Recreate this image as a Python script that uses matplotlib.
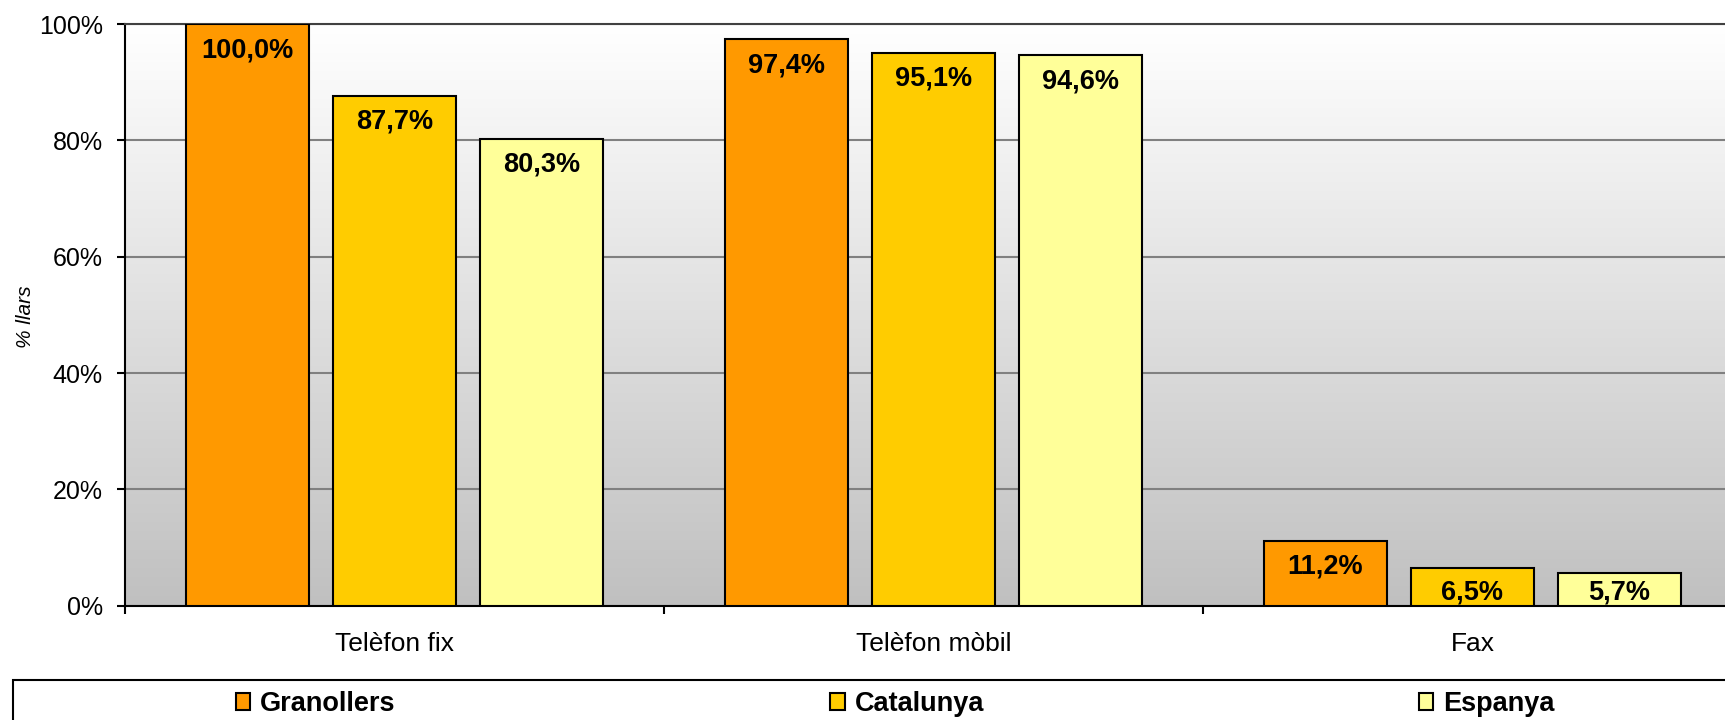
import numpy as np
import matplotlib
matplotlib.use("Agg")
import matplotlib.pyplot as plt
from matplotlib.patches import Rectangle
from matplotlib.colors import LinearSegmentedColormap

plt.rcParams['font.family'] = ['Liberation Sans', 'DejaVu Sans']

categories = ["Telèfon fix", "Telèfon mòbil", "Fax"]
series = ["Granollers", "Catalunya", "Espanya"]
granollers = [100.0, 97.4, 11.2]
catalunya = [87.7, 95.1, 6.5]
espanya = [80.3, 94.6, 5.7]
yticks = [0, 20, 40, 60, 80, 100]
ytick_labels = ["0%", "20%", "40%", "60%", "80%", "100%"]
colors = ["#FF9900", "#FFCC00", "#FFFF99"]

W, H = 1725, 720
fig = plt.figure(figsize=(W / 100, H / 100), dpi=100)
left_px, right_px, top_px, bot_px = 125, 1725, 24, 605.7
ax = fig.add_axes([left_px / W, (H - bot_px) / H, (right_px - left_px) / W, (bot_px - top_px) / H])

cat_px = 539.0
xmax = -0.5 + (right_px - left_px) / cat_px

# gradient background
cmap = LinearSegmentedColormap.from_list("bg", ["#C0C0C0", "#FFFFFF"])
grad = np.linspace(0, 1, 256).reshape(-1, 1)
ax.imshow(grad, extent=(-0.5, xmax + 0.1, 0, 100), origin="lower", aspect="auto",
          cmap=cmap, zorder=-1, interpolation="bilinear")

# gridlines
ax.set_axisbelow(True)
ax.yaxis.grid(True, color="#808080", linewidth=1.5)

bw = 122.5 / cat_px
step = (122.5 + 24.5) / cat_px
x = np.arange(len(categories))
data = [granollers, catalunya, espanya]
bars = []
for i, (vals, c, name) in enumerate(zip(data, colors, series)):
    b = ax.bar(x + (i - 1) * step, vals, width=bw, color=c, edgecolor="black",
               linewidth=1.5, zorder=3, label=name)
    bars.append(b)
    for xi, v in zip(x + (i - 1) * step, vals):
        ly = max(v - 26 / 5.815, 2.2)
        ax.text(xi, ly, f"{v:.1f}%".replace(".", ","), ha="center", va="center",
                fontsize=19.5, fontweight="bold", zorder=4)

# axes styling
ax.spines["right"].set_visible(False)
ax.spines["top"].set_color("#404040")
ax.spines["top"].set_linewidth(1.5)
ax.spines["left"].set_linewidth(1.5)
ax.spines["bottom"].set_linewidth(1.5)

ax.set_yticks(yticks)
ax.set_yticklabels(ytick_labels, fontsize=18)
ax.tick_params(axis="y", length=6, width=1.5, pad=10)

ax.set_xticks([-0.5, 0.5, 1.5, 2.5])
ax.set_xticklabels([])
ax.tick_params(axis="x", which="major", length=6, width=1.5, direction="out")
ax.set_xticks(x, minor=True)
ax.set_xticklabels(categories, minor=True, fontsize=19)
ax.tick_params(axis="x", which="minor", length=0, pad=19)

ax.set_xlim(-0.5, xmax)
ax.set_ylim(0, 100)

ax.set_ylabel("% llars", fontsize=15, style="italic", labelpad=0)
ax.yaxis.set_label_coords(-(left_px - 35) / (right_px - left_px), (bot_px - 317) / (bot_px - top_px))

# legend frame
fig.patches.append(Rectangle((13 / W, -0.1), 1.1, 0.1 + (H - 680) / H,
                             transform=fig.transFigure, fill=False,
                             edgecolor="black", linewidth=1.5))
fig.legend(handles=bars, labels=series, ncol=3, loc="center left",
           bbox_to_anchor=(222 / W, (H - 704) / H), frameon=False,
           prop={"weight": "bold", "size": 19.5}, borderpad=0,
           handlelength=0.55, handleheight=0.55, handletextpad=0.35,
           columnspacing=16.05)

fig.savefig("out.png", dpi=100)
